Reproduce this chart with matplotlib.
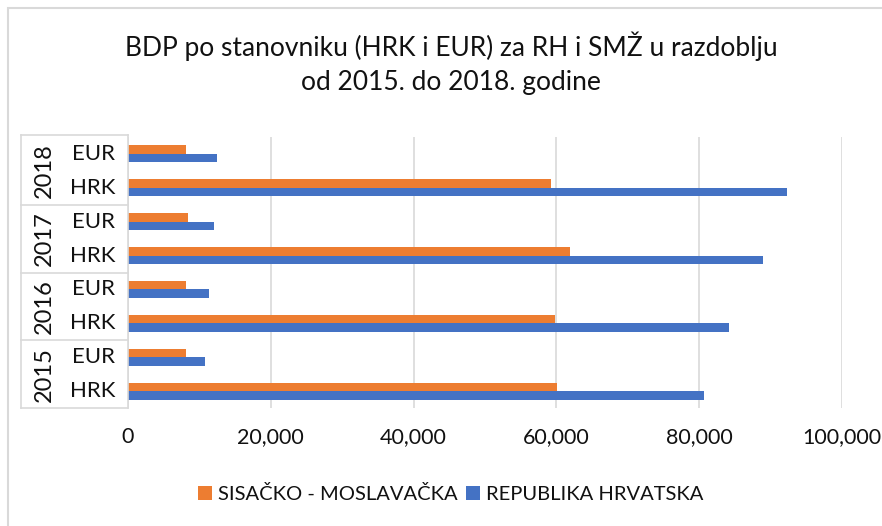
#!/usr/bin/env python3

import numpy as np
import matplotlib.pyplot as plt
from matplotlib.lines import Line2D
from matplotlib.patches import Rectangle
from matplotlib.ticker import FuncFormatter

years = ['2015', '2016', '2017', '2018']
currencies = ['HRK', 'EUR']
# values per (year, currency), ordered bottom to top
smz = [60100, 8060, 59800, 8060, 61900, 8400, 59300, 8060]
rh = [80700, 10800, 84200, 11300, 89000, 12100, 92300, 12500]
series_names = ['SISAČKO - MOSLAVAČKA', 'REPUBLIKA HRVATSKA']
colors = ['#ED7D31', '#4472C4']
title = 'BDP po stanovniku (HRK i EUR) za RH i SMŽ u razdoblju\nod 2015. do 2018. godine'

plt.rcParams['font.family'] = ['Lato', 'DejaVu Sans']
txt = '#111111'

W, H = 882, 526
fig = plt.figure(figsize=(W / 100, H / 100), dpi=100)
ax = fig.add_axes([128 / W, 1 - 408 / H, (842 - 128) / W, (408 - 137) / H])

n = len(smz)
y = np.arange(n)
h = 0.25
ax.barh(y + h / 2, smz, height=h, color=colors[0], label=series_names[0])
ax.barh(y - h / 2, rh, height=h, color=colors[1], label=series_names[1])

ax.set_ylim(-0.5, n - 0.5)
ax.set_xlim(0, 100000)
ax.set_xticks(np.arange(0, 100001, 20000))
ax.xaxis.set_major_formatter(FuncFormatter(lambda v, p: f'{int(v):,}'))
ax.grid(axis='x', color='#D9D9D9', linewidth=1.2)
ax.set_axisbelow(True)
for s in ax.spines.values():
    s.set_visible(False)
ax.tick_params(axis='x', length=0, pad=14, labelsize=15.5, labelcolor=txt)
ax.set_yticks([])

# hierarchical category labels
line_kw = dict(color='#D9D9D9', linewidth=1.2, transform=fig.transFigure)
x_left, x_right = 21 / W, 128 / W
ytop, ybot = 1 - 135 / H, 1 - 408 / H
for xs, ys in [([x_left, x_right], [ytop, ytop]), ([x_left, x_left], [ytop, ybot]),
               ([x_left, x_right], [ybot, ybot]), ([x_right, x_right], [ytop, ybot])]:
    fig.add_artist(Line2D(xs, ys, **line_kw))

trans = ax.get_yaxis_transform()
for i in range(n):
    ax.text(-35 / 714, i, currencies[i % 2], transform=trans, ha='center',
            va='center', fontsize=16, color=txt, clip_on=False)
for j, yr in enumerate(years):
    ax.text(-84 / 714, 2 * j + 0.5, yr, transform=trans, ha='center',
            va='center', rotation=90, fontsize=17, color=txt, clip_on=False)
    if j > 0:
        ax.plot([-107 / 714, 0], [2 * j - 0.5, 2 * j - 0.5], transform=trans,
                color='#D9D9D9', linewidth=1.2, clip_on=False)

fig.text(451 / W, 1 - 63 / H, title, ha='center', va='center', fontsize=19,
         color=txt, linespacing=1.45)

handles, labels = ax.get_legend_handles_labels()
fig.legend(handles, labels, loc='center', bbox_to_anchor=(451 / W, 1 - 494 / H),
           ncol=2, frameon=False, fontsize=14.5, handlelength=0.7, handleheight=0.7,
           handletextpad=0.3, columnspacing=0.4, labelcolor=txt)

fig.add_artist(Rectangle((8 / W, -0.1), 1.2, 1 - 8 / H + 0.1, transform=fig.transFigure,
                         fill=False, edgecolor='#D9D9D9', linewidth=1.5))

fig.savefig('out.png', dpi=100)
